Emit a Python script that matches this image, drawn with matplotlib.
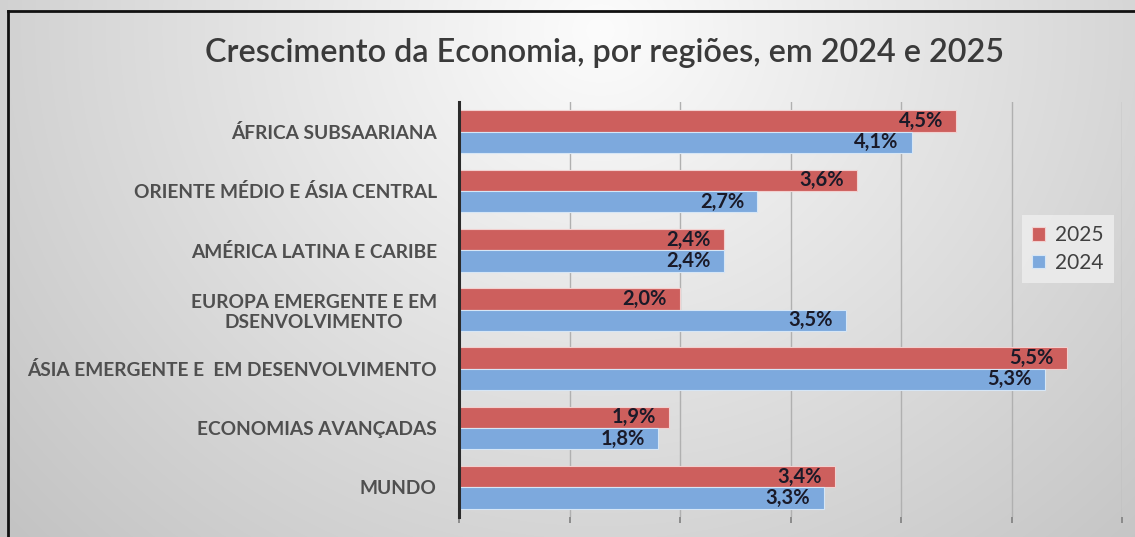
import numpy as np
import matplotlib
matplotlib.use("Agg")
import matplotlib.pyplot as plt
from matplotlib.lines import Line2D

categories = [
    "ÁFRICA SUBSAARIANA",
    "ORIENTE MÉDIO E ÁSIA CENTRAL",
    "AMÉRICA LATINA E CARIBE",
    "EUROPA EMERGENTE E EM\nDSENVOLVIMENTO",
    "ÁSIA EMERGENTE E  EM DESENVOLVIMENTO",
    "ECONOMIAS AVANÇADAS",
    "MUNDO",
]
values_2025 = [4.5, 3.6, 2.4, 2.0, 5.5, 1.9, 3.4]
values_2024 = [4.1, 2.7, 2.4, 3.5, 5.3, 1.8, 3.3]
series_names = ["2025", "2024"]
title = "Crescimento da Economia, por regiões, em 2024 e 2025"

FONT = ["Lato", "DejaVu Sans"]
plt.rcParams["font.family"] = FONT

W, H = 1135, 537
fig = plt.figure(figsize=(W / 100, H / 100), dpi=100)

# background gradient
bg = fig.add_axes([0, 0, 1, 1], zorder=-10)
yy, xx = np.mgrid[0:H, 0:W]
r = np.sqrt(((xx - 600) / 650.0) ** 2 + ((yy - 30) / 600.0) ** 2)
val = np.clip(252 - 46 * r, 195, 252) / 255.0
img = np.dstack([val, val, val])
bg.imshow(img, aspect="auto", extent=[0, 1, 0, 1], origin="upper")
bg.set_axis_off()

# frame lines (top and left)
fig.add_artist(Line2D([8 / W, 1], [1 - 11 / H, 1 - 11 / H], color="#111111", lw=2, transform=fig.transFigure))
fig.add_artist(Line2D([8 / W, 8 / W], [0, 1 - 11 / H], color="#111111", lw=2, transform=fig.transFigure))

ax = fig.add_axes([459 / W, 1 - 517 / H, (1122 - 459) / W, (517 - 102) / H])
ax.set_facecolor("none")

y = np.arange(len(categories))
h = 0.36
red = "#CD5F5D"
blue = "#7DA9DD"
b1 = ax.barh(y - h / 2, values_2025, height=h, color=red, edgecolor="#f2d0cf", linewidth=0.8, label=series_names[0], zorder=3)
b2 = ax.barh(y + h / 2, values_2024, height=h, color=blue, edgecolor="#d6e6f6", linewidth=0.8, label=series_names[1], zorder=3)

for bars, vals in ((b1, values_2025), (b2, values_2024)):
    for rect, v in zip(bars, vals):
        ax.text(v - 0.12, rect.get_y() + rect.get_height() / 2, f"{v:.1f}%".replace(".", ","),
                ha="right", va="center", fontsize=14.5, fontweight="bold", color="#1a1a28", zorder=4)

ax.set_xlim(0, 6)
ax.set_ylim(6.5, -0.5)
ax.set_xticks(np.arange(0, 7, 1))
ax.set_xticklabels([])
ax.tick_params(axis="x", length=4, width=1.2, color="#7f7f7f", direction="out")
ax.grid(axis="x", color="#b0b0b0", linewidth=1.0, zorder=0)
ax.set_yticks(y)
ax.set_yticklabels(categories, fontsize=13.8, fontweight="bold", color="#4f4f4f", multialignment="center")
ax.tick_params(axis="y", length=0, pad=16)
for s in ("top", "right", "bottom"):
    ax.spines[s].set_visible(False)
ax.spines["left"].set_color("#2b2b2b")
ax.spines["left"].set_linewidth(2.2)
ax.spines["left"].set_zorder(5)

leg = ax.legend(loc="upper left", bbox_to_anchor=(0.849, 0.728), borderaxespad=0,
                frameon=True, facecolor="#ececec", edgecolor="none", framealpha=0.9,
                fontsize=15, handlelength=0.6, handleheight=0.6, handletextpad=0.5,
                labelspacing=0.35, borderpad=0.5, fancybox=False)
for t in leg.get_texts():
    t.set_color("#404040")

fig.text(605 / W, 1 - 53 / H, title, ha="center", va="center", fontsize=23.3,
         fontweight="semibold", color="#3a3a3a")

fig.savefig("out.png", dpi=100)
